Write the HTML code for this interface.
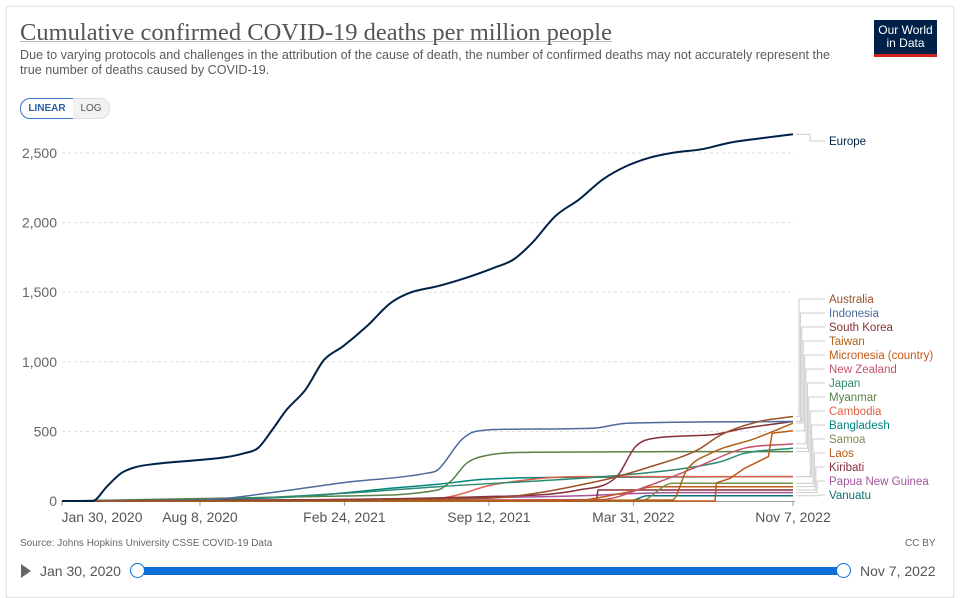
<!DOCTYPE html>
<html><head><meta charset="utf-8"><style>
body{margin:0;width:965px;height:588px;background:#fff;font-family:"Liberation Sans",sans-serif;overflow:hidden;position:relative}
.frame{position:absolute;left:6px;top:6px;width:946px;height:590px;border:1px solid #e4e4e4;box-shadow:0 0 3px rgba(0,0,0,.08)}
.t{position:absolute;white-space:nowrap}
</style></head><body>
<div class="frame"></div>
<div class="t" style="left:20px;top:19px;font-family:'Liberation Serif',serif;font-size:24.5px;color:#555;text-decoration:underline;text-decoration-color:#bbb;text-decoration-thickness:1px">Cumulative confirmed COVID-19 deaths per million people</div>
<div class="t" style="left:20px;top:48px;font-size:12.6px;color:#5b5b5b;line-height:15px">Due to varying protocols and challenges in the attribution of the cause of death, the number of confirmed deaths may not accurately represent the<br>true number of deaths caused by COVID-19.</div>
<div style="position:absolute;left:874px;top:20px;width:63px;height:37px;background:#002147;color:#fff;font-size:12px;line-height:13px;text-align:center;padding-top:4px;box-sizing:border-box;border-bottom:3px solid #ce261e">Our World<br>in Data</div>
<div style="position:absolute;left:20px;top:98px;width:52px;height:19px;border:1px solid #3878c8;border-radius:10px 0 0 10px;font-size:10px;color:#2c5fa8;text-align:center;line-height:19px;font-weight:bold">LINEAR</div>
<div style="position:absolute;left:73px;top:98px;width:36px;height:19px;border:1px solid #ddd;border-left:none;border-radius:0 10px 10px 0;background:#f2f2f2;font-size:10px;color:#555;text-align:center;line-height:19px">LOG</div>
<svg id="chart" width="965" height="588" style="position:absolute;left:0;top:0"></svg>
<div class="t" style="left:20px;top:538px;font-size:10px;color:#666">Source: Johns Hopkins University CSSE COVID-19 Data</div>
<div class="t" style="left:905px;top:538px;font-size:10px;color:#666">CC BY</div>
<div style="position:absolute;left:21px;top:564px;width:0;height:0;border-left:10px solid #666;border-top:7px solid transparent;border-bottom:7px solid transparent"></div>
<div class="t" style="left:40px;top:563px;font-size:14px;color:#555">Jan 30, 2020</div>
<div style="position:absolute;left:138px;top:567px;width:706px;height:8px;background:#0e6fd8"></div>
<div style="position:absolute;left:130px;top:563px;width:13px;height:13px;border-radius:50%;background:#fff;border:1.5px solid #0e6fd8"></div>
<div style="position:absolute;left:836px;top:563px;width:13px;height:13px;border-radius:50%;background:#fff;border:1.5px solid #0e6fd8"></div>
<div class="t" style="left:860px;top:563px;font-size:14px;color:#555">Nov 7, 2022</div>
<script>
const xTickLabels=["Jan 30, 2020","Aug 8, 2020","Feb 24, 2021","Sep 12, 2021","Mar 31, 2022","Nov 7, 2022"];
const xTickDays=[0,191,391,591,791,1012];
const yTicks=[0,500,1000,1500,2000,2500];
const yTickLabels=["0","500","1,000","1,500","2,000","2,500"];
const seriesNames=["Europe","Australia","Indonesia","South Korea","Taiwan","Micronesia (country)","New Zealand","Japan","Myanmar","Cambodia","Bangladesh","Samoa","Laos","Kiribati","Papua New Guinea","Vanuatu"];
const seriesColors=["#002147","#9a5129","#4c6a9c","#883039","#b16214","#c05917","#c4526a","#2d8a72","#578145","#e0604a","#00847e","#7a8f50","#be5915","#883039","#a2559c","#0e6f7a"];
const europeDays=[0,42,62,82,101,128,180,226,252,271,291,311,337,363,389,422,455,481,520,559,598,625,651,683,716,749,782,814,847,886,925,965,1012];
const europeVals=[0,0,103,200,242,266,290,314,343,379,511,655,799,1015,1111,1255,1423,1495,1543,1603,1675,1735,1855,2047,2167,2311,2407,2467,2503,2527,2575,2604,2635];
const australiaDays=[0,580,750,815,880,912,965,1012];
const australiaVals=[0,19,151,247,367,475,571,607];
const indonesiaDays=[0,60,195,290,390,505,520,553,572,618,735,782,1012];
const indonesiaVals=[0,2,7,60,132,200,223,439,499,516,523,559,571];
const southKoreaDays=[0,580,715,768,794,820,898,945,1012];
const southKoreaVals=[0,31,79,175,391,451,475,523,571];
const taiwanDays=[0,845,865,898,960,1012];
const taiwanVals=[0,7,223,343,450,559];
const micronesiaDays=[0,904,906,925,945,978,983,1012];
const micronesiaVals=[0,0,130,163,235,319,487,504];
const newZealandDays=[0,745,815,880,945,1012];
const newZealandVals=[0,10,115,247,379,410];
const japanDays=[0,195,390,520,750,845,912,945,1012];
const japanVals=[0,7,55,103,175,223,283,343,379];
const myanmarDays=[0,390,520,540,560,585,650,1012];
const myanmarVals=[0,36,79,151,271,324,350,355];
const cambodiaDays=[0,520,600,715,1012];
const cambodiaVals=[0,20,120,175,175];
const bangladeshDays=[0,325,455,520,585,715,1012];
const bangladeshVals=[0,31,91,120,156,170,175];
const samoaDays=[0,800,845,1012];
const samoaVals=[0,0,127,127];
const laosDays=[0,700,780,820,1012];
const laosVals=[0,0,60,103,103];
const kiribatiDays=[0,740,742,1012];
const kiribatiVals=[0,0,79,79];
const papuaDays=[0,400,700,850,1012];
const papuaVals=[0,10,35,60,60];
const vanuatuDays=[0,765,790,810,1012];
const vanuatuVals=[0,0,5,38,38];
const seriesDays=[europeDays,australiaDays,indonesiaDays,southKoreaDays,taiwanDays,micronesiaDays,newZealandDays,japanDays,myanmarDays,cambodiaDays,bangladeshDays,samoaDays,laosDays,kiribatiDays,papuaDays,vanuatuDays];
const seriesVals=[europeVals,australiaVals,indonesiaVals,southKoreaVals,taiwanVals,micronesiaVals,newZealandVals,japanVals,myanmarVals,cambodiaVals,bangladeshVals,samoaVals,laosVals,kiribatiVals,papuaVals,vanuatuVals];

const svg=document.getElementById('chart');const NS='http://www.w3.org/2000/svg';
const X0=62,X1=793,Y0=501,Y1=153;
const xs=d=>X0+d/1012*(X1-X0);
const ys=v=>Y0-v/2500*(Y0-Y1);
function mk(t,a,p){const e=document.createElementNS(NS,t);for(const k in a)e.setAttribute(k,a[k]);(p||svg).appendChild(e);return e;}
function smoothPath(P){
  const n=P.length;if(n<3){return P.map((p,i)=>(i?'L':'M')+p[0].toFixed(1)+','+p[1].toFixed(1)).join('');}
  const m=[];const dl=[];
  for(let i=0;i<n-1;i++)dl.push((P[i+1][1]-P[i][1])/(P[i+1][0]-P[i][0]||1));
  m.push(dl[0]);for(let i=1;i<n-1;i++){m.push(dl[i-1]*dl[i]<=0?0:(dl[i-1]+dl[i])/2);}m.push(dl[n-2]);
  for(let i=0;i<n-1;i++){if(dl[i]===0){m[i]=0;m[i+1]=0;}else{const a=m[i]/dl[i],b=m[i+1]/dl[i],s=a*a+b*b;if(s>9){const t=3/Math.sqrt(s);m[i]=t*a*dl[i];m[i+1]=t*b*dl[i];}}}
  let d='M'+P[0][0].toFixed(1)+','+P[0][1].toFixed(1);
  for(let i=0;i<n-1;i++){const h=(P[i+1][0]-P[i][0])/3;
    d+='C'+(P[i][0]+h).toFixed(1)+','+(P[i][1]+m[i]*h).toFixed(1)+' '+(P[i+1][0]-h).toFixed(1)+','+(P[i+1][1]-m[i+1]*h).toFixed(1)+' '+P[i+1][0].toFixed(1)+','+P[i+1][1].toFixed(1);}
  return d;
}
yTicks.forEach((v,i)=>{
  if(v>0){const g=mk('line',{x1:62,x2:795,y1:ys(v),y2:ys(v),stroke:'#ddd','stroke-dasharray':'3,3'});
  
  }
  const t=mk('text',{x:57,y:ys(v)+5,'text-anchor':'end','font-size':'14',fill:'#666','font-family':'Liberation Sans, sans-serif'});t.textContent=yTickLabels[i];
  
  
});
const ax=mk('line',{x1:62,x2:795,y1:501.5,y2:501.5,stroke:'#999'});


xTickDays.forEach((d,i)=>{
  const l=mk('line',{x1:xs(d),x2:xs(d),y1:501,y2:506,stroke:'#999'});
  
  
  const t=mk('text',{x:xs(d)+(i==0?40:0),y:522,'text-anchor':'middle','font-size':'14',fill:'#555','font-family':'Liberation Sans, sans-serif'});t.textContent=xTickLabels[i];
  
  
});
for(let s=seriesNames.length-1;s>=0;s--){
  const D=seriesDays[s],V=seriesVals[s];
  const P=D.map((d,i)=>[xs(d),ys(V[i])]);
  let p;
  if(s==5){p='';P.forEach((q,i)=>{p+=(i?'L':'M')+q[0].toFixed(1)+','+q[1].toFixed(1);});}
  else p=smoothPath(P);
  const path=mk('path',{d:p,fill:'none',stroke:seriesColors[s],'stroke-width':s==0?2:1.5,'stroke-linejoin':'round'});
  
  
}
seriesNames.forEach((n,s)=>{
  const V=seriesVals[s];const ey=ys(V[V.length-1]);
  const ly=s==0?145:303+(s-1)*14;
  const bx=s==0?810:799+(s-1)*1.4;
  const c=mk('polyline',{points:`796,${ey} ${bx},${ey} ${bx},${ly-4} 825,${ly-4}`,fill:'none',stroke:'#ccc','stroke-width':1});
  
  
  const t=mk('text',{x:829,y:ly,'font-size':'11.5',fill:seriesColors[s],'font-family':'Liberation Sans, sans-serif'});t.textContent=n;
  
  
});
</script>
</body></html>
